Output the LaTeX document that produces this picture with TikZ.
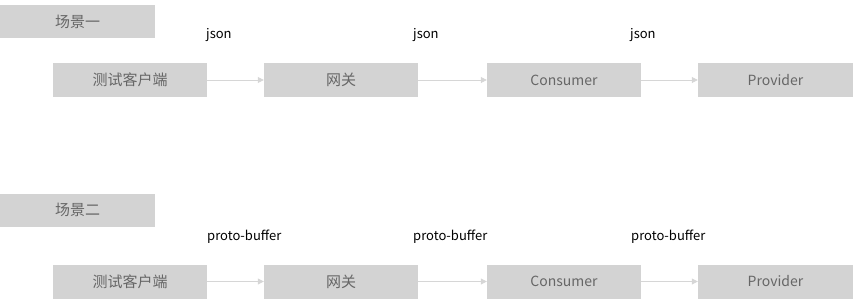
\documentclass[tikz,border=0pt]{standalone}
\usepackage{fontspec}
\setmainfont{Noto Sans CJK SC}
\usetikzlibrary{arrows.meta}
\definecolor{boxgray}{HTML}{D3D3D3}
\definecolor{txtgray}{HTML}{666666}
\definecolor{linegray}{HTML}{D6D6D6}
\tikzset{
  box/.style={fill=boxgray, draw=none, minimum width=154pt, minimum height=34pt, inner sep=0pt, text=txtgray, font=\fontsize{14pt}{16pt}\selectfont},
  cjkbox/.style={box, font=\fontsize{15pt}{17pt}\selectfont},
  lbl/.style={anchor=west, inner sep=0pt, text=black, font=\fontsize{13pt}{15pt}\selectfont},
  conn/.style={draw=linegray, line width=0.8pt, -{Triangle[length=6pt,width=6pt]}}
}
\begin{document}
\begin{tikzpicture}[x=1pt,y=-1pt]
\useasboundingbox (0,0) rectangle (853,300);
\node[cjkbox, minimum width=155pt, minimum height=33pt] (s1) at (77.5,21.5) {场景一};
\node[cjkbox] (a1) at (130,80) {测试客户端};
\node[cjkbox] (b1) at (341,80) {网关};
\node[box] (c1) at (564,80) {Consumer};
\node[box, minimum width=155pt] (d1) at (775.5,80) {Provider};
\draw[conn] (a1) -- (b1);
\draw[conn] (b1) -- (c1);
\draw[conn] (c1) -- (d1);
\node[lbl] (j1) at (206,35) {json};
\node[lbl] (j2) at (413,35) {json};
\node[lbl] (j3) at (630,35) {json};
\node[cjkbox, minimum width=155pt, minimum height=33pt] (s2) at (77.5,210) {场景二};
\node[cjkbox] (a2) at (130,281.5) {测试客户端};
\node[cjkbox] (b2) at (341,281.5) {网关};
\node[box] (c2) at (564,281.5) {Consumer};
\node[box, minimum width=155pt] (d2) at (775.5,281.5) {Provider};
\draw[conn] (a2) -- (b2);
\draw[conn] (b2) -- (c2);
\draw[conn] (c2) -- (d2);
\node[lbl] (p1) at (207,237) {proto-buffer};
\node[lbl] (p2) at (413,237) {proto-buffer};
\node[lbl] (p3) at (631,237) {proto-buffer};
\end{tikzpicture}
\end{document}
